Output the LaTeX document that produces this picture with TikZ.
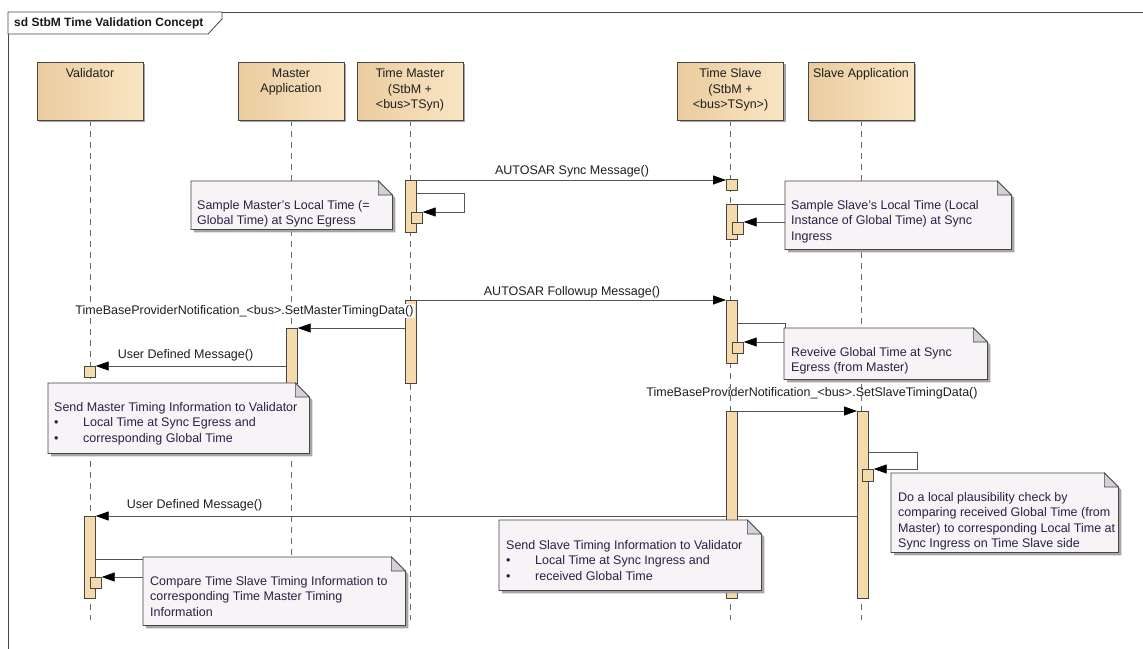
\documentclass[tikz,border=0pt]{standalone}
\usepackage{fontspec}
\setmainfont{Liberation Sans}
\usetikzlibrary{arrows.meta,calc,shadows}
\pgfdeclarelayer{bg}
\pgfdeclarelayer{paper}
\pgfsetlayers{paper,bg,main}
\definecolor{headL}{RGB}{234,204,158}
\definecolor{headR}{RGB}{250,230,196}
\definecolor{actfill}{RGB}{245,218,172}
\definecolor{edge}{RGB}{70,70,70}
\definecolor{msgline}{RGB}{85,85,85}
\definecolor{notefill}{RGB}{247,243,247}
\definecolor{foldc}{RGB}{210,210,214}
\definecolor{notetxt}{RGB}{35,35,70}
\definecolor{shadec}{RGB}{165,165,165}
\newcommand\dfont{\fontsize{12.5}{15.5}\selectfont}
\newcommand\bul{\makebox[29pt][l]{\textbullet}}
\tikzset{
  frameline/.style={draw=edge, line width=0.8pt},
  frametitle/.style={font=\bfseries\fontsize{12}{14}\selectfont, inner sep=0pt, text=black!90},
  headbox/.style={draw=edge, left color=headL, right color=headR, minimum width=106pt, minimum height=58pt, inner sep=0pt,
    drop shadow={shadow xshift=2pt, shadow yshift=-2pt, fill=shadec, opacity=1}},
  headtext/.style={anchor=north, align=center, inner xsep=0pt, inner ysep=6.5pt, font=\dfont, text=black!88},
  lifeline/.style={draw=gray!85!black, line width=0.7pt, dash pattern=on 6pt off 5pt},
  actbox/.style={draw=edge, fill=actfill, minimum width=11pt, inner sep=0pt, line width=0.7pt},
  msg/.style={draw=msgline, line width=0.8pt, -{Triangle[length=13pt,width=9pt,color=black]}},
  msglabel/.style={font=\dfont, text=black!88, inner xsep=1pt, inner ysep=1.5pt},
  notearea/.style={inner sep=0pt},
  notetext/.style={anchor=north west, align=left, inner sep=0pt, font=\dfont, text=notetxt},
}
\newcommand\act[4]{\node[actbox, minimum height=#4, anchor=north west] (#1) at (#2,#3) {};}
\newcommand\umlnote[5]{%
  \node[notearea, anchor=north west, minimum width=#4-#2, minimum height=#5-#3] (#1) at (#2,#3) {};
  \fill[shadec] ($(#1.north west)+(3,3)$) -- ($(#1.north east)+(-11,3)$) -- ($(#1.north east)+(3,17)$) -- ($(#1.south east)+(3,3)$) -- ($(#1.south west)+(3,3)$) -- cycle;
  \filldraw[draw=edge, fill=notefill, line width=0.8pt] (#1.north west) -- ($(#1.north east)+(-14,0)$) -- ($(#1.north east)+(0,14)$) -- (#1.south east) -- (#1.south west) -- cycle;
  \filldraw[draw=edge, fill=foldc, line width=0.6pt] ($(#1.north east)+(-14,0)$) -- ($(#1.north east)+(-14,14)$) -- ($(#1.north east)+(0,14)$) -- cycle;
}
\begin{document}
\begin{tikzpicture}[x=1pt,y=-1pt]
\useasboundingbox (0,0) rectangle (1143,648);
\begin{pgfonlayer}{paper}
\fill[white] (0,0) rectangle (1143,648);
\draw[frameline] (8,670) -- (8,12) -- (1170,12);
\end{pgfonlayer}

% frame title
\filldraw[frameline, fill=white] (8,12) -- (222,12) -- (222,19) -- (208,34) -- (8,34) -- cycle;
\node[frametitle, anchor=west] (title) at (14,23) {sd StbM Time Validation Concept};

% lifeline heads
\node[headbox, label={[headtext]north:Validator}] (val) at (90,91) {};
\node[headbox, label={[headtext]north:Master\\Application}] (ma) at (291,91) {};
\node[headbox, label={[headtext]north:Time Master\\(StbM +\\<bus>TSyn)}] (tm) at (410,91) {};
\node[headbox, label={[headtext]north:Time Slave\\(StbM +\\<bus>TSyn>)}] (ts) at (730.5,91) {};
\node[headbox, label={[headtext]north:Slave Application}] (sa) at (861,91) {};

% activations
\act{tm1}{405}{180}{52}
\act{tmn1}{411}{212}{11}
\act{ts1}{726}{179}{11}
\act{ts2}{726}{204}{35}
\act{tsn2}{732}{222}{12}
\act{tm2}{405}{300}{83}
\act{ts3}{726}{300}{63}
\act{tsn3}{732}{342}{11}
\act{ma1}{286}{328}{55}
\act{va1}{84}{366}{11}
\act{ts4}{726}{411}{187}
\act{sa1}{857}{411}{187}
\act{san1}{862}{469}{12}
\act{va2}{84}{516}{82}
\act{van2}{90}{577}{11}

\coordinate (endy) at (0,620);
\begin{pgfonlayer}{bg}
\draw[lifeline] (val.south) -- (val.south |- endy);
\draw[lifeline] (ma.south) -- (ma.south |- endy);
\draw[lifeline] (tm.south) -- (tm.south |- endy);
\draw[lifeline] (ts.south) -- (ts.south |- endy);
\draw[lifeline] (sa.south) -- (sa.south |- endy);
% messages
\draw[msg] (tm1.north east) -- (tm1.north east -| ts1.west);
\draw[msg] ($(tm1.north east)+(0,13)$) -- ++(48,0) |- (tmn1.north east);
\draw[msg] (ts2.north east) -- ++(48,0) |- (tsn2.north east);
\draw[msg] (tm2.north east) -- (tm2.north east -| ts3.west);
\draw[msg] ($(ts3.north east)+(0,23)$) -- ++(48,0) |- (tsn3.north east);
\draw[msg] (ma1.north east -| tm2.west) -- (ma1.north east);
\draw[msg] (va1.north east -| ma1.west) -- (va1.north east);
\draw[msg] (ts4.north east) -- (sa1.north west);
\draw[msg] ($(sa1.north east)+(0,41)$) -- ++(49,0) |- (san1.north east);
\draw[msg] (va2.north east -| sa1.west) -- (va2.north east);
\draw[msg] ($(va2.north east)+(0,43)$) -- ++(48,0) |- (van2.north east);
\end{pgfonlayer}

% message labels
\node[msglabel] (l1) at (572,171) {AUTOSAR Sync Message()};
\node[msglabel] (l2) at (572,292) {AUTOSAR Followup Message()};
\node[msglabel, fill=white] (l3) at (244.5,311) {TimeBaseProviderNotification\_<bus>.SetMasterTimingData()};
\node[msglabel] (l4) at (185.5,355) {User Defined Message()};
\node[msglabel] (l5) at (812,393) {TimeBaseProviderNotification\_<bus>.SetSlaveTimingData()};
\node[msglabel] (l6) at (194.5,505) {User Defined Message()};

% notes
\umlnote{n1}{191}{181}{392}{229}
\node[notetext] (n1t) at (197,200) {Sample Master's Local Time (=\\Global Time) at Sync Egress};
\umlnote{n2}{785}{181}{1011}{249}
\node[notetext] (n2t) at (791,200) {Sample Slave's Local Time (Local\\Instance of Global Time) at Sync\\Ingress};
\umlnote{n3}{784}{328}{987}{379}
\node[notetext] (n3t) at (791,347) {Reveive Global Time at Sync\\Egress (from Master)};
\umlnote{n4}{48}{383}{309}{453}
\node[notetext] (n4t) at (54,402) {Send Master Timing Information to Validator\\\bul Local Time at Sync Egress and\\\bul corresponding Global Time};
\umlnote{n5}{891}{473}{1118}{552}
\node[notetext] (n5t) at (898,492) {Do a local plausibility check by\\comparing received Global Time (from\\Master) to corresponding Local Time at\\Sync Ingress on Time Slave side};
\umlnote{n7}{499}{520}{761}{590}
\node[notetext] (n7t) at (506,540) {Send Slave Timing Information to Validator\\\bul Local Time at Sync Ingress and\\\bul received Global Time};
\umlnote{n6}{143}{557}{405}{625}
\node[notetext] (n6t) at (150,576) {Compare Time Slave Timing Information to\\corresponding Time Master Timing\\Information};
\end{tikzpicture}
\end{document}
